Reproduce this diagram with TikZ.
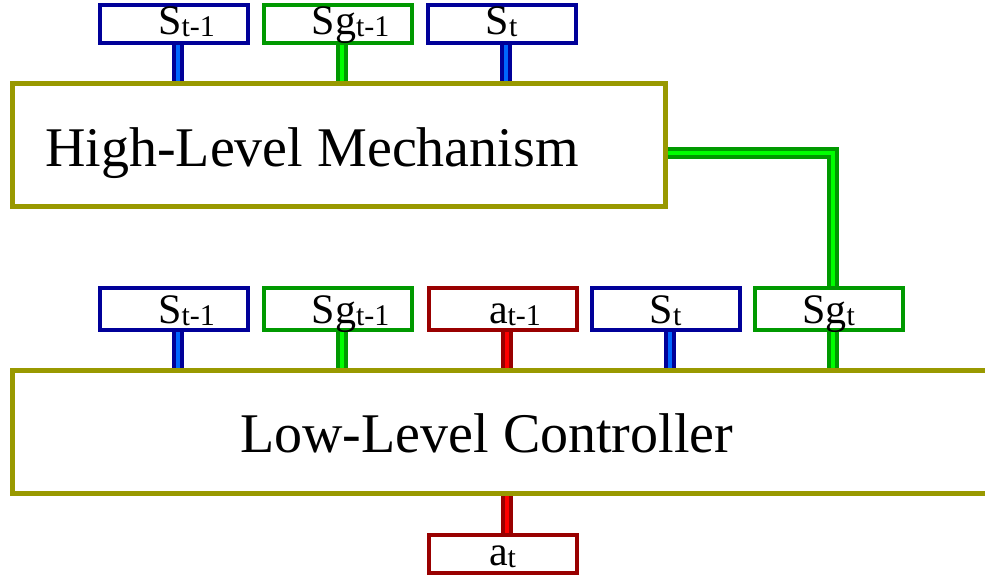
\documentclass[tikz,border=0pt]{standalone}
\usepackage{fontspec}
\setmainfont{Liberation Serif}
\usetikzlibrary{backgrounds}
\definecolor{stdark}{RGB}{0,0,153}
\definecolor{stlight}{RGB}{0,102,255}
\definecolor{sgdark}{RGB}{0,153,0}
\definecolor{sglight}{RGB}{0,255,0}
\definecolor{actdark}{RGB}{153,0,0}
\definecolor{actlight}{RGB}{255,0,0}
\definecolor{blockolive}{RGB}{153,153,0}
\newcommand{\subtxt}[1]{{\fontsize{30}{30}\selectfont\raisebox{-2pt}{#1}}}

\begin{document}
\begin{tikzpicture}[x=1pt, y=-1pt,
                stbox/.style={draw=stdark}, sgbox/.style={draw=sgdark}, actbox/.style={draw=actdark},
                stlink/.style={draw=stdark, double=stlight}, sglink/.style={draw=sgdark, double=sglight},
                actlink/.style={draw=actdark, double=actlight}]
                \clip (0,0) rectangle (985,575);
                \begin{scope}[every node/.style={draw=blockolive, line width=5pt, fill=white, inner sep=0pt}]
                        \node (hlm) at (338.5,145) [minimum width=653pt, minimum height=122pt] {};
                        \node (llc) at (506,431.5) [minimum width=988pt, minimum height=123pt] {};
                \end{scope}
                \begin{scope}[every node/.style={inner sep=0pt, anchor=base west, font=\fontsize{56}{60}\selectfont}]
                        \node (hlmtext) at (45,167) {High-Level Mechanism};
                        \node (llctext) at (240,452) {Low-Level Controller};
                \end{scope}
                \begin{scope}[every node/.style={line width=4pt, fill=white, inner sep=0pt, minimum width=148pt, minimum height=38pt, text height=22pt, text depth=0pt, font=\fontsize{42}{42}\selectfont}]
                        \node[stbox] (hs1) at (174,24) {S\subtxt{t\rlap{-1}}};
                        \node[sgbox] (hsg1) at (338,24) {Sg\subtxt{t\rlap{-1}}};
                        \node[stbox] (hs0) at (501.5,24) {S\subtxt{t}};
                        \node[actbox] (lat) at (502.5,553.5) [text height=23pt] {a\subtxt{t}};
                \end{scope}
                \begin{scope}[every node/.style={line width=4pt, fill=white, inner sep=0pt, minimum width=148pt, minimum height=42pt, text height=28pt, text depth=0pt, font=\fontsize{42}{42}\selectfont}]
                        \node[stbox] (ls1) at (174,309) {S\subtxt{t\rlap{-1}}};
                        \node[sgbox] (lsg1) at (338,309) {Sg\subtxt{t\rlap{-1}}};
                        \node[actbox] (la1) at (502.5,309) {a\subtxt{t\rlap{-1}}};
                        \node[stbox] (ls0) at (665.5,309) {S\subtxt{t}};
                        \node[sgbox] (lsg0) at (828.5,309) {Sg\subtxt{t}};
                \end{scope}
                \coordinate (hlmout) at (600,153);
                \begin{pgfonlayer}{background}
                        \begin{scope}[every path/.style={line width=4pt, double distance=4pt, line join=miter}]
                                \path ([xshift=4pt]hs1.center) edge[stlink] ([xshift=4pt]hs1.center |- hlm.center);
                                \path ([xshift=4pt]hsg1.center) edge[sglink] ([xshift=4pt]hsg1.center |- hlm.center);
                                \path ([xshift=4pt]hs0.center) edge[stlink] ([xshift=4pt]hs0.center |- hlm.center);
                                \path ([xshift=4pt]ls1.center) edge[stlink] ([xshift=4pt]ls1.center |- llc.center);
                                \path ([xshift=4pt]lsg1.center) edge[sglink] ([xshift=4pt]lsg1.center |- llc.center);
                                \path ([xshift=4pt]la1.center) edge[actlink] ([xshift=4pt]la1.center |- llc.center);
                                \path ([xshift=4pt]ls0.center) edge[stlink] ([xshift=4pt]ls0.center |- llc.center);
                                \path ([xshift=4pt]lat.center) edge[actlink] ([xshift=4pt]lat.center |- llc.center);
                                \draw[sglink] (hlmout) -| ([xshift=4pt]lsg0.center |- llc.center);
                        \end{scope}
                \end{pgfonlayer}
        \end{tikzpicture}
\end{document}
